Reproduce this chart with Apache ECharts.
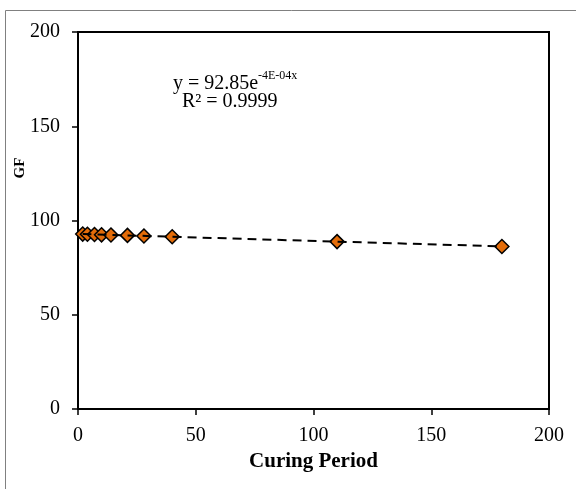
<!DOCTYPE html>
<html>
  <head>
    <meta charset="utf-8">
    <title>GF vs Curing Period</title>
    <script src="https://cdn.jsdelivr.net/npm/echarts@6/dist/echarts.min.js"></script>
  </head>
  <body style="margin:0">
      <div id="main" style="width:576px; height:489px;"></div>
      <script>
          var curingDays = [2, 4, 7, 10, 14, 21, 28, 40, 110, 180]
          var gfValues = [92.8, 92.7, 92.6, 92.4, 92.3, 92.1, 91.8, 91.4, 88.8, 86.2]
          var trendX = [2, 110, 180]
          var trendY = [92.8, 88.8, 86.3]
          var xTicks = [0, 50, 100, 150, 200]
          var yTicks = [0, 50, 100, 150, 200]

          var serif = '"Liberation Serif", "Times New Roman", serif'
          var chart = echarts.init(document.querySelector('#main'))

          var pairs = function(xs, ys) {
              return xs.map(function(x, i) { return [x, ys[i]] })
          }

          var option = {
              animation: false,
              backgroundColor: '#fff',
              grid: {
                  left: 78, right: 27, top: 32, bottom: 80,
                  outerBoundsMode: 'none', containLabel: false,
                  show: true, borderColor: '#000', borderWidth: 2
              },
              xAxis: {
                  type: 'value', min: xTicks[0], max: xTicks[xTicks.length - 1], interval: 50,
                  name: 'Curing Period', nameLocation: 'middle', nameGap: 40,
                  nameTextStyle: { fontFamily: serif, fontWeight: 'bold', fontSize: 21, color: '#000' },
                  axisLine: { lineStyle: { color: '#000', width: 2 } },
                  axisTick: { length: 6, lineStyle: { color: '#000', width: 1.5 } },
                  axisLabel: { fontFamily: serif, fontSize: 20, color: '#000', margin: 17 },
                  splitLine: { show: false }
              },
              yAxis: {
                  type: 'value', min: yTicks[0], max: yTicks[yTicks.length - 1], interval: 50,
                  axisLine: { lineStyle: { color: '#000', width: 2 } },
                  axisTick: { length: 6, lineStyle: { color: '#000', width: 1.5 } },
                  axisLabel: { fontFamily: serif, fontSize: 20, color: '#000', margin: 18 },
                  splitLine: { show: false }
              },
              series: [
                  {
                      type: 'scatter', z: 2,
                      data: pairs(curingDays, gfValues),
                      symbol: 'diamond', symbolSize: 14,
                      itemStyle: { color: '#E36C09', borderColor: '#000', borderWidth: 1.5, opacity: 1 }
                  },
                  {
                      type: 'line', z: 3,
                      data: pairs(trendX, trendY),
                      smooth: true, symbol: 'none',
                      lineStyle: { color: '#000', width: 2, type: [9, 6] }
                  }
              ],
              graphic: [
                  { type: 'rect', silent: true, shape: { x: 5.5, y: 10.5, width: 620, height: 620 },
                    style: { fill: 'none', stroke: '#808080', lineWidth: 1 } },
                  { type: 'text', x: 20.5, y: 168, rotation: Math.PI / 2,
                    style: { text: 'GF', font: 'bold 15px ' + serif, fill: '#000', align: 'center', verticalAlign: 'middle' } },
                  { type: 'text', left: 173, top: 74,
                    style: { text: 'y = 92.85e', font: '20px ' + serif, fill: '#000' } },
                  { type: 'text', left: 258, top: 70,
                    style: { text: '-4E-04x', font: '12px ' + serif, fill: '#000' } },
                  { type: 'text', left: 182, top: 92,
                    style: { text: 'R² = 0.9999', font: '20px ' + serif, fill: '#000' } }
              ]
          }
          chart.setOption(option)
      </script>
  </body>
</html>
